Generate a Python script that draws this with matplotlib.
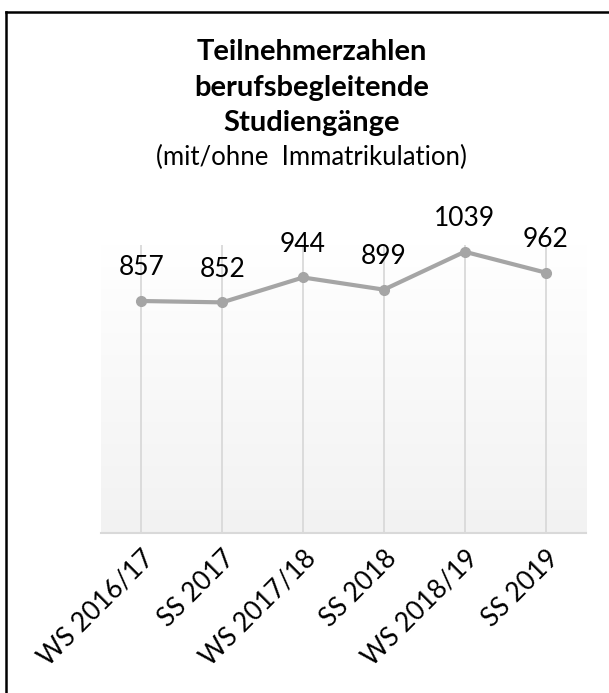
import numpy as np
import matplotlib.pyplot as plt
from matplotlib.colors import LinearSegmentedColormap

semester = ['WS 2016/17', 'SS 2017', 'WS 2017/18', 'SS 2018', 'WS 2018/19', 'SS 2019']
teilnehmer = [857, 852, 944, 899, 1039, 962]

plt.rcParams['font.family'] = ['Lato', 'DejaVu Sans']

fig = plt.figure(figsize=(6.09, 6.93), dpi=100)
ax = fig.add_axes([0.1658, 0.2309, 0.7964, 0.4156])

# hintergrund: verlauf weiss -> hellgrau
cmap = LinearSegmentedColormap.from_list('verlauf', ['#f2f2f2', '#ffffff'])
grad = np.linspace(0, 1, 256).reshape(-1, 1)
ax.imshow(grad, cmap=cmap, aspect='auto', extent=[0, 1, 0, 1],
          transform=ax.transAxes, origin='lower', zorder=0)

x = np.arange(len(semester))
for xi in x:
    ax.axvline(xi, color='#d9d9d9', lw=1.3, zorder=1)

ax.plot(x, teilnehmer, color='#a5a5a5', lw=3, marker='o', ms=7,
        zorder=3, solid_capstyle='round')
for xi, v in zip(x, teilnehmer):
    ax.annotate(str(v), (xi, v), xytext=(0, 24), textcoords='offset points',
                ha='center', va='center', fontsize=19, color='#000000')

ax.set_xlim(-0.5, len(semester) - 0.5)
ax.set_ylim(0, 1064)
ax.set_yticks([])
ax.set_xticks(x)
ax.set_xticklabels(semester, rotation=45, ha='right', va='top',
                   rotation_mode='anchor', fontsize=19)
ax.tick_params(axis='x', length=0, pad=9)
for s in ['top', 'left', 'right']:
    ax.spines[s].set_visible(False)
ax.spines['bottom'].set_color('#d9d9d9')
ax.spines['bottom'].set_linewidth(1.5)

# titel
fig.text(0.512, 1 - 52 / 693, 'Teilnehmerzahlen', ha='center', va='center',
         fontsize=21, fontweight='bold')
fig.text(0.512, 1 - 88 / 693, 'berufsbegleitende', ha='center', va='center',
         fontsize=21, fontweight='bold')
fig.text(0.512, 1 - 123 / 693, 'Studiengänge', ha='center', va='center',
         fontsize=21, fontweight='bold')
fig.text(0.512, 1 - 157 / 693, '(mit/ohne  Immatrikulation)', ha='center', va='center',
         fontsize=18.5)

# rahmen oben und links
fig.add_artist(plt.Line2D([6 / 609, 1], [1 - 12 / 693, 1 - 12 / 693],
                          color='black', lw=1.8, transform=fig.transFigure))
fig.add_artist(plt.Line2D([6 / 609, 6 / 609], [0, 1 - 12 / 693],
                          color='black', lw=1.8, transform=fig.transFigure))

fig.savefig('out.png', dpi=100)
